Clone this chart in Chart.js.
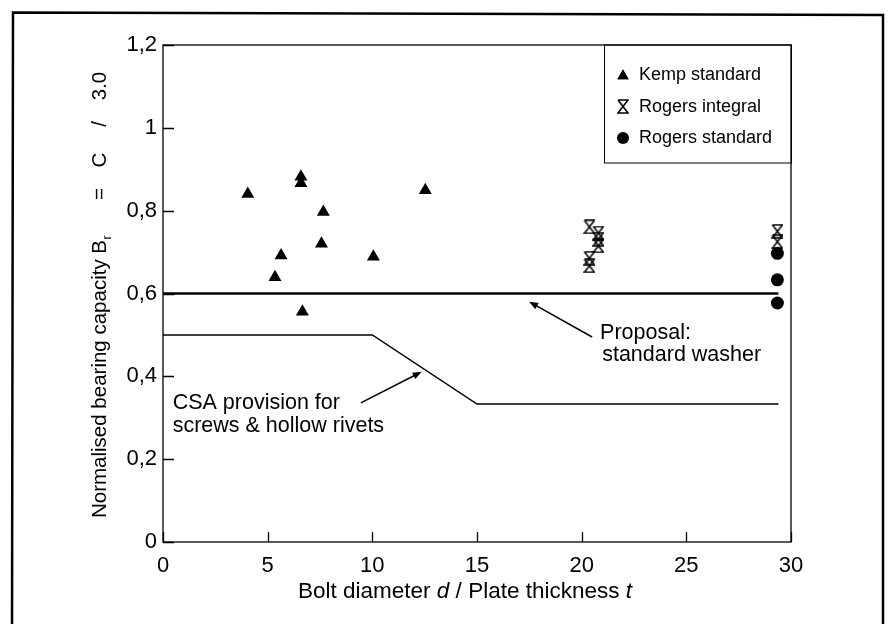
<!DOCTYPE html>
<html lang="en">
<head>
    <meta charset="UTF-8">
    <title>Normalised bearing capacity</title>
    <style>
        body {
            margin: 0;
            background: #fff;
        }
        #wrap {
            width: 888px;
            height: 624px;
            position: relative;
        }
    </style>
</head>
<body>
    <div id="wrap"><canvas id="chart"></canvas></div>

    <script src="https://cdn.jsdelivr.net/npm/chart.js"></script>
    <script>
        // data
        const seriesNames = ['Kemp standard', 'Rogers integral', 'Rogers standard'];

        const kempX = [4.05, 6.59, 6.59, 12.53, 7.66, 7.57, 5.64, 10.05, 5.35, 6.66];
        const kempY = [0.84, 0.882, 0.866, 0.849, 0.797, 0.72, 0.692, 0.689, 0.639, 0.556];

        const rogersIntX = [20.37, 20.37, 20.37, 20.8, 20.8, 20.8, 29.35, 29.35];
        const rogersIntY = [0.761, 0.685, 0.667, 0.746, 0.731, 0.715, 0.75, 0.725];

        const rogersStdX = [29.35, 29.35, 29.35];
        const rogersStdY = [0.697, 0.633, 0.577];

        const proposalX = [0, 29.4];
        const proposalY = [0.6, 0.6];

        const csaX = [0, 10, 15, 29.4];
        const csaY = [0.5, 0.5, 0.333, 0.333];

        const xTicks = [0, 5, 10, 15, 20, 25, 30];
        const yTicks = [0, 0.2, 0.4, 0.6, 0.8, 1, 1.2];
        const yTickLabels = ['0', '0,2', '0,4', '0,6', '0,8', '1', '1,2'];

        const FONT = '"Liberation Sans", Arial, sans-serif';

        function toPoints(xs, ys) {
            return xs.map((x, i) => ({ x: x, y: ys[i] }));
        }

        // open hourglass marker for Rogers integral
        function hourglass(w, h) {
            const c = document.createElement('canvas');
            c.width = w + 2;
            c.height = h + 2;
            const g = c.getContext('2d');
            g.strokeStyle = '#000';
            g.lineWidth = 1.5;
            g.beginPath();
            g.moveTo(1, 1); g.lineTo(w + 1, 1);
            g.lineTo(1, h + 1); g.lineTo(w + 1, h + 1);
            g.lineTo(1, 1);
            g.stroke();
            return c;
        }
        const hgMarker = hourglass(10, 13);

        const framePlugin = {
            id: 'frame',
            beforeDraw(chart) {
                const ctx = chart.ctx;
                ctx.save();
                ctx.fillStyle = '#fff';
                ctx.fillRect(0, 0, chart.width, chart.height);
                ctx.strokeStyle = '#000';
                ctx.lineWidth = 2.5;
                ctx.beginPath();
                ctx.moveTo(12, 640);
                ctx.lineTo(13, 12.5);
                ctx.lineTo(883, 15);
                ctx.lineTo(883, 640);
                ctx.stroke();
                ctx.restore();
            },
            afterDraw(chart) {
                const ctx = chart.ctx;
                const a = chart.chartArea;
                const xs = chart.scales.x, ys = chart.scales.y;
                ctx.save();
                ctx.strokeStyle = '#000';
                ctx.lineWidth = 1.3;
                ctx.strokeRect(a.left, a.top, a.right - a.left, a.bottom - a.top);
                // inward ticks
                ctx.beginPath();
                xTicks.forEach(v => {
                    const px = Math.round(xs.getPixelForValue(v)) + 0.5;
                    ctx.moveTo(px, a.bottom);
                    ctx.lineTo(px, a.bottom - 10);
                });
                yTicks.forEach(v => {
                    const py = Math.round(ys.getPixelForValue(v)) + 0.5;
                    ctx.moveTo(a.left, py);
                    ctx.lineTo(a.left + 11, py);
                });
                ctx.stroke();

                // x title
                ctx.fillStyle = '#000';
                ctx.textBaseline = 'middle';
                const italic = 'italic 22.5px ' + FONT;
                const normal = '22.5px ' + FONT;
                const parts = [['Bolt diameter ', normal], ['d', italic], [' / Plate thickness ', normal], ['t', italic]];
                let total = 0;
                parts.forEach(p => { ctx.font = p[1]; total += ctx.measureText(p[0]).width; });
                let cx = 465 - total / 2;
                parts.forEach(p => {
                    ctx.font = p[1];
                    ctx.textAlign = 'left';
                    ctx.fillText(p[0], cx, 592);
                    cx += ctx.measureText(p[0]).width;
                });

                // y title, rotated; pieces placed along the axis (page y)
                const yFont = '20.5px ' + FONT;
                ctx.save();
                ctx.translate(100, 0);
                ctx.rotate(-Math.PI / 2);
                ctx.textAlign = 'left';
                ctx.font = yFont;
                const head = 'Normalised bearing capacity B';
                ctx.fillText(head, -518, 0);
                const headEnd = -518 + ctx.measureText(head).width;
                ctx.font = '12px ' + FONT;
                ctx.fillText('r', headEnd + 0.5, 8);
                ctx.font = yFont;
                ctx.textAlign = 'center';
                [['=', 194], ['C', 160], ['/', 124], ['3.0', 86]].forEach(p => {
                    ctx.fillText(p[0], -p[1], 0);
                });
                ctx.restore();

                // legend
                const lx = 604, ly = a.top, lw = a.right - 604, lh = 118;
                ctx.lineWidth = 1;
                ctx.strokeRect(lx + 0.5, ly, lw, lh);
                ctx.font = '18px ' + FONT;
                ctx.textAlign = 'left';
                ctx.textBaseline = 'middle';
                const rows = [75, 107, 138];
                rows.forEach((ry, i) => {
                    const mx = 623;
                    if (i === 0) {
                        Chart.helpers.drawPoint(ctx, { pointStyle: 'triangle', radius: 6.5, borderWidth: 0 }, mx, ry + 1);
                        ctx.fill();
                    } else if (i === 1) {
                        ctx.drawImage(hgMarker, mx - 6, ry - 8);
                    } else {
                        ctx.beginPath();
                        ctx.arc(mx, ry, 6, 0, Math.PI * 2);
                        ctx.fill();
                    }
                    ctx.fillText(seriesNames[i], 639, ry);
                });
                ctx.restore();
            }
        };

        // annotation text and arrows (data units)
        const notes = [
            { text: 'Proposal:', x: 20.88, y: 0.505 },
            { text: 'standard washer', x: 20.98, y: 0.452 },
            { text: 'CSA provision for', x: 0.46, y: 0.336 },
            { text: 'screws & hollow rivets', x: 0.46, y: 0.28 }
        ];
        const arrows = [
            { from: [20.5, 0.495], to: [17.49, 0.58] },
            { from: [9.45, 0.336], to: [12.36, 0.411] }
        ];

        const notesPlugin = {
            id: 'notes',
            afterDatasetsDraw(chart) {
                const ctx = chart.ctx;
                const xs = chart.scales.x, ys = chart.scales.y;
                ctx.save();
                ctx.fillStyle = '#000';
                ctx.strokeStyle = '#000';
                ctx.font = '21.5px ' + FONT;
                ctx.textAlign = 'left';
                ctx.textBaseline = 'middle';
                notes.forEach(n => {
                    ctx.fillText(n.text, xs.getPixelForValue(n.x), ys.getPixelForValue(n.y));
                });
                arrows.forEach(ar => {
                    const x1 = xs.getPixelForValue(ar.from[0]), y1 = ys.getPixelForValue(ar.from[1]);
                    const x2 = xs.getPixelForValue(ar.to[0]), y2 = ys.getPixelForValue(ar.to[1]);
                    const ang = Math.atan2(y2 - y1, x2 - x1);
                    ctx.lineWidth = 1.5;
                    ctx.beginPath();
                    ctx.moveTo(x1, y1);
                    ctx.lineTo(x2 - Math.cos(ang) * 6, y2 - Math.sin(ang) * 6);
                    ctx.stroke();
                    ctx.beginPath();
                    ctx.moveTo(x2, y2);
                    ctx.lineTo(x2 - Math.cos(ang) * 9 - Math.sin(ang) * 3.5, y2 - Math.sin(ang) * 9 + Math.cos(ang) * 3.5);
                    ctx.lineTo(x2 - Math.cos(ang) * 9 + Math.sin(ang) * 3.5, y2 - Math.sin(ang) * 9 - Math.cos(ang) * 3.5);
                    ctx.closePath();
                    ctx.fill();
                });
                ctx.restore();
            }
        };

        new Chart(document.getElementById('chart'), {
            type: 'scatter',
            data: {
                datasets: [
                    {
                        label: 'Proposal',
                        type: 'line',
                        data: toPoints(proposalX, proposalY),
                        borderColor: '#000',
                        borderWidth: 2.5,
                        pointRadius: 0,
                        fill: false
                    },
                    {
                        label: 'CSA',
                        type: 'line',
                        data: toPoints(csaX, csaY),
                        borderColor: '#000',
                        borderWidth: 1.5,
                        pointRadius: 0,
                        fill: false,
                        tension: 0
                    },
                    {
                        label: seriesNames[0],
                        data: toPoints(kempX, kempY),
                        pointStyle: 'triangle',
                        radius: 7.5,
                        backgroundColor: '#000',
                        borderWidth: 0
                    },
                    {
                        label: seriesNames[1],
                        data: toPoints(rogersIntX, rogersIntY),
                        pointStyle: hgMarker
                    },
                    {
                        label: seriesNames[2],
                        data: toPoints(rogersStdX, rogersStdY),
                        pointStyle: 'circle',
                        radius: 6.5,
                        backgroundColor: '#000',
                        borderWidth: 0
                    }
                ]
            },
            options: {
                responsive: true,
                maintainAspectRatio: false,
                animation: false,
                layout: {
                    padding: { top: 45, right: 97, left: 0, bottom: 0 }
                },
                plugins: {
                    legend: { display: false },
                    tooltip: { enabled: false }
                },
                scales: {
                    x: {
                        type: 'linear',
                        min: 0,
                        max: 30,
                        afterFit: s => { s.height = 82; },
                        afterBuildTicks: s => { s.ticks = xTicks.map(v => ({ value: v })); },
                        grid: { display: false, drawTicks: false },
                        border: { display: false },
                        ticks: {
                            color: '#000',
                            font: { family: FONT, size: 22 },
                            padding: 11,
                            maxRotation: 0
                        }
                    },
                    y: {
                        min: 0,
                        max: 1.2,
                        afterFit: s => { s.width = 163; },
                        afterBuildTicks: s => { s.ticks = yTicks.map(v => ({ value: v })); },
                        grid: { display: false, drawTicks: false },
                        border: { display: false },
                        ticks: {
                            color: '#000',
                            font: { family: FONT, size: 22 },
                            padding: 6,
                            callback: (v) => yTickLabels[yTicks.indexOf(v)]
                        }
                    }
                }
            },
            plugins: [framePlugin, notesPlugin]
        });
    </script>
</body>
</html>
